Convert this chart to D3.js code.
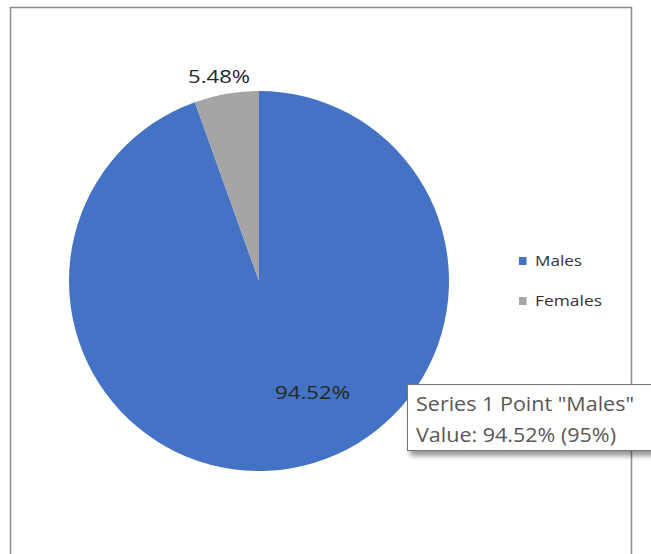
<!DOCTYPE html>
<html>
<head>
<meta charset="utf-8">
<script src="https://cdn.jsdelivr.net/npm/d3@7"></script>
<style>
  html, body { margin: 0; padding: 0; background: #fff; }
  svg { display: block; }
</style>
</head>
<body>
<svg id="chart" width="651" height="554"></svg>
<script>
// Share of each category (percent)
const categories = ["Males", "Females"];
const values = [94.52, 5.48];
const colors = ["#4472C4", "#A5A5A5"];
const labelText = ["94.52%", "5.48%"];

const svg = d3.select("#chart");
const font = "'Open Sans', 'Noto Sans', sans-serif";

// chart area frame
svg.append("rect")
  .attr("x", 10.5).attr("y", 7.5)
  .attr("width", 621).attr("height", 560)
  .attr("fill", "#fff")
  .attr("stroke", "#8c8c8c").attr("stroke-width", 1.5);

const cx = 259, cy = 281, r = 190;

// slices start at 12 o'clock and run clockwise
const pie = d3.pie().sort(null).value(d => d.v)
  .startAngle(0).endAngle(2 * Math.PI);
const data = categories.map((c, i) => ({ c, v: values[i], color: colors[i], label: labelText[i] }));
const arcs = pie(data);
const arc = d3.arc().innerRadius(0).outerRadius(r);

const g = svg.append("g").attr("transform", `translate(${cx},${cy})`);
g.selectAll("path").data(arcs).join("path")
  .attr("d", arc)
  .attr("fill", d => d.data.color);

// data labels: inside for the large slice, outside for the small one
const polar = (ang, rad) => [Math.sin(ang) * rad, -Math.cos(ang) * rad];
const labelPlace = [
  { shift: -0.276, rad: r * 0.65, width: 75 },
  { shift: -0.02, rad: r * 1.1, width: 62 }
];
arcs.forEach((a, i) => {
  const mid = (a.startAngle + a.endAngle) / 2 + labelPlace[i].shift;
  const p = polar(mid, labelPlace[i].rad);
  g.append("text")
    .attr("x", p[0] - labelPlace[i].width / 2).attr("y", p[1] + 7)
    .attr("font-family", font)
    .attr("font-size", 19)
    .attr("fill", "#262626")
    .attr("textLength", labelPlace[i].width)
    .attr("lengthAdjust", "spacingAndGlyphs")
    .text(a.data.label);
});

// legend
const legendWidths = [47, 67];
const legend = svg.append("g").attr("transform", "translate(519,266)");
data.forEach((d, i) => {
  const row = legend.append("g").attr("transform", `translate(0,${i * 40})`);
  row.append("rect").attr("x", 0).attr("y", -9).attr("width", 7.5).attr("height", 8)
    .attr("fill", d.color);
  row.append("text").attr("x", 16).attr("y", 0)
    .attr("font-family", font).attr("font-size", 14)
    .attr("fill", "#333333")
    .attr("textLength", legendWidths[i])
    .attr("lengthAdjust", "spacingAndGlyphs")
    .text(d.c);
});

// hover tooltip for the Males slice
const defs = svg.append("defs");
const shadow = defs.append("filter").attr("id", "tipShadow")
  .attr("x", "-10%").attr("y", "-10%").attr("width", "130%").attr("height", "140%");
shadow.append("feGaussianBlur").attr("in", "SourceAlpha").attr("stdDeviation", 2.5);
shadow.append("feOffset").attr("dx", 3).attr("dy", 5).attr("result", "off");
shadow.append("feComponentTransfer").append("feFuncA").attr("type", "linear").attr("slope", 0.4);
const m = shadow.append("feMerge");
m.append("feMergeNode");
m.append("feMergeNode").attr("in", "SourceGraphic");

const tip = svg.append("g").attr("transform", "translate(407,384)");
tip.append("rect")
  .attr("x", 0.5).attr("y", 0.5).attr("width", 250).attr("height", 66)
  .attr("fill", "#fff").attr("stroke", "#767676").attr("stroke-width", 1)
  .attr("filter", "url(#tipShadow)");
tip.append("text").attr("x", 9).attr("y", 27)
  .attr("font-family", font).attr("font-size", 20).attr("fill", "#5a5656")
  .attr("textLength", 218).attr("lengthAdjust", "spacingAndGlyphs")
  .text(`Series 1 Point "${categories[0]}"`);
tip.append("text").attr("x", 9).attr("y", 58)
  .attr("font-family", font).attr("font-size", 20).attr("fill", "#5a5656")
  .attr("textLength", 200).attr("lengthAdjust", "spacingAndGlyphs")
  .text(`Value: ${values[0].toFixed(2)}% (${Math.round(values[0])}%)`);
</script>
</body>
</html>
